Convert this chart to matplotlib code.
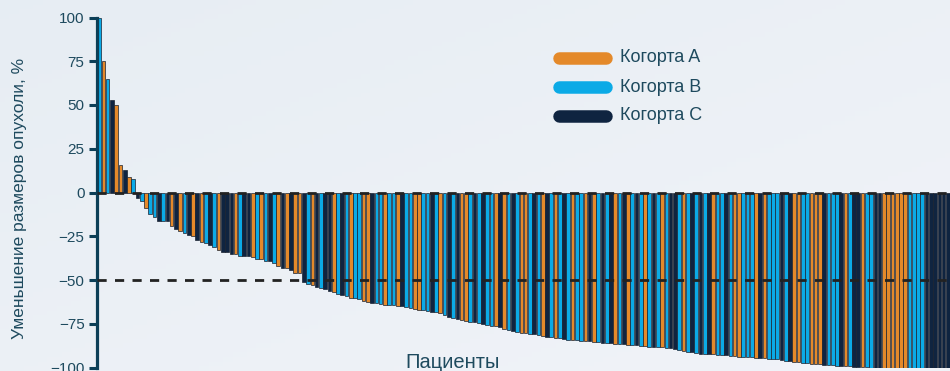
import numpy as np
import matplotlib
matplotlib.use('Agg')
import matplotlib.pyplot as plt
from matplotlib.lines import Line2D

plt.rcParams['font.family'] = ['Liberation Sans', 'DejaVu Sans']

# tumour size change per patient, %, sorted (waterfall)
values = [
    100, 75, 65, 53, 50, 16, 13, 9, 8, -3,
    -5, -9, -12, -14, -16, -16, -16, -19, -21, -22,
    -23, -24, -25, -27, -28, -29, -30, -31, -33, -34,
    -34, -35, -35, -36, -36, -36, -37, -38, -38, -39,
    -39, -40, -42, -43, -43, -44, -46, -46, -51, -52,
    -53, -54, -54.5, -55, -56, -57, -58, -58.5, -59, -60,
    -60.5, -61, -62, -62.5, -63, -63, -63.5, -64, -64, -64.5,
    -65, -65, -65.5, -66, -66.5, -67, -67, -67.5, -68, -68.5,
    -69, -70, -71, -71.5, -72, -73, -73.5, -74, -74, -74.5,
    -75, -75.5, -76, -76.5, -77, -78, -78.5, -79, -79.5, -80,
    -80.5, -81, -81, -81.5, -82, -82.5, -82.5, -83, -83, -83.5,
    -84, -84, -84.5, -85, -85, -85, -85.5, -85.5, -86, -86,
    -86, -86.5, -86.5, -86.5, -87, -87, -87, -87.5, -87.5, -88,
    -88, -88.5, -88.5, -89, -89, -89.5, -90, -90.5, -91, -91,
    -91.5, -92, -92, -92.5, -92.5, -93, -93, -93, -93.5, -93.5,
    -94, -94, -94, -94, -94.5, -94.5, -94.5, -95, -95, -95,
    -95.5, -96, -96.5, -97, -97, -97.5, -97.5, -98, -98, -98,
    -98.5, -98.5, -98.5, -99, -99, -99, -99, -99.5, -99.5, -99.5,
    -99.5, -100, -100, -100, -100, -100, -100, -100, -100, -100,
    -100, -100, -100, -100, -100, -100, -100, -100, -100, -100,
]

# cohort of each patient
cohorts = list(
    "BABCAACABC"
    "BABBCBCACA"
    "BCACABCBAC"
    "CCABCCABAB"
    "CBACACAACB"
    "ACBCCABCBA"
    "BBAACBBABB"
    "ACBBAABBCB"
    "ABCBCAABCB"
    "CBBACABCBA"
    "ABCBACBABC"
    "BABBACABCB"
    "CABCABCBAB"
    "CBABCCBABC"
    "BCBCABBCBA"
    "ABBBACABBB"
    "CBCAABBAAA"
    "CBBBCABCCA"
    "BBCCAAAAAA"
    "BBBBCCCCCC"
)

cohort_names = ['Когорта A', 'Когорта B', 'Когорта C']
cohort_colors = {'A': '#E4892A', 'B': '#0BAAE6', 'C': '#0F2440'}

yticks = [100, 75, 50, 25, 0, -25, -50, -75, -100]

txt_col = '#1E4A5E'
axis_col = '#0C3F57'

fig = plt.figure(figsize=(9.5, 3.71), dpi=100)

# soft background gradient
bg = fig.add_axes([0, 0, 1, 1], zorder=-10)
gx, gy = np.meshgrid(np.linspace(0, 1, 200), np.linspace(0, 1, 80))
g = 0.5 * gx + 0.5 * gy
c0 = np.array([0.905, 0.930, 0.953])
c1 = np.array([0.945, 0.955, 0.975])
img = c0[None, None, :] * (1 - g[..., None]) + c1[None, None, :] * g[..., None]
bg.imshow(img, aspect='auto', extent=[0, 1, 0, 1], origin='upper')
bg.axis('off')

ax = fig.add_axes([97 / 950, 3.5 / 371, 853 / 950, 350 / 371])
ax.patch.set_alpha(0)

n = len(values)
x = np.arange(n)
cols = [cohort_colors[c] for c in cohorts]
ax.bar(x, values, width=0.86, color=cols, edgecolor='#1a2230', linewidth=0.5, zorder=2)

ax.axhline(0, color='#222222', lw=2.0, ls=(0, (3.3, 3.0)), zorder=3)
ax.axhline(-50, color='#222222', lw=2.0, ls=(0, (3.3, 3.0)), zorder=3)

ax.set_xlim(-0.5, n - 0.5)
ax.set_ylim(-100, 100)
ax.set_yticks(yticks)
ax.set_xticks([])
for s in ['top', 'right', 'bottom']:
    ax.spines[s].set_visible(False)
ax.spines['left'].set_color(axis_col)
ax.spines['left'].set_linewidth(2.3)
ax.tick_params(axis='y', length=6, width=2.2, color=axis_col, labelcolor=txt_col,
               labelsize=11, pad=3)

fig.text(20 / 950, 1 - 198 / 371, 'Уменьшение размеров опухоли, %', rotation=90,
         ha='center', va='center', fontsize=12.5, color=txt_col)
fig.text(453 / 950, 1 - 368 / 371, 'Пациенты', ha='center', va='baseline',
         fontsize=14.5, color=txt_col)

# legend
for k, (name, key) in enumerate(zip(cohort_names, ['A', 'B', 'C'])):
    yy = 1 - (58 + 29 * k) / 371
    fig.add_artist(Line2D([559 / 950, 606 / 950], [yy, yy], transform=fig.transFigure,
                          color=cohort_colors[key], lw=9, solid_capstyle='round'))
    fig.text(620 / 950, yy, name, ha='left', va='center', fontsize=13, color=txt_col)

fig.savefig('out.png', dpi=100)
